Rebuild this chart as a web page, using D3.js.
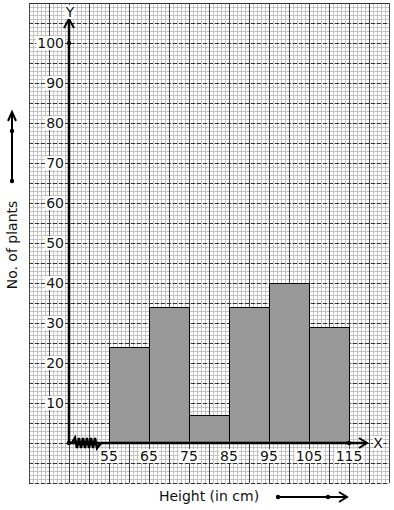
<!DOCTYPE html>
<html>
<head>
<meta charset="utf-8">
<script src="https://cdn.jsdelivr.net/npm/d3@7"></script>
<style>
  body { margin: 0; background: #fff; }
  svg { display: block; font-family: "DejaVu Sans", sans-serif; }
</style>
</head>
<body>
<svg id="chart" width="394" height="510"></svg>
<script>
const classStarts = [55, 65, 75, 85, 95, 105];
const plantCounts = [24, 34, 7, 34, 40, 29];
const xTicks = [55, 65, 75, 85, 95, 105, 115];
const yTicks = [10, 20, 30, 40, 50, 60, 70, 80, 90, 100];

const svg = d3.select("#chart");

// 10 units = 40px on both axes, origin at (69, 443)
const x = d3.scaleLinear().domain([45, 115]).range([69, 349]);
const y = d3.scaleLinear().domain([0, 100]).range([443, 43]);

// graph paper
const gx0 = x(35), gx1 = x(125), gy0 = y(110), gy1 = y(-10);
const paper = svg.append("g");
for (let v = 35; v <= 125; v += 1) {
  paper.append("line")
    .attr("x1", x(v) + 0.5).attr("x2", x(v) + 0.5)
    .attr("y1", gy0).attr("y2", gy1)
    .attr("stroke", "#c4c4c4").attr("stroke-width", 1);
}
for (let v = -10; v <= 110; v += 1) {
  paper.append("line")
    .attr("y1", y(v) + 0.5).attr("y2", y(v) + 0.5)
    .attr("x1", gx0).attr("x2", gx1)
    .attr("stroke", "#c4c4c4").attr("stroke-width", 1);
}
for (let v = 35; v <= 125; v += 5) {
  paper.append("line")
    .attr("x1", x(v) + 0.5).attr("x2", x(v) + 0.5)
    .attr("y1", gy0).attr("y2", gy1)
    .attr("stroke", "#444").attr("stroke-width", 1);
}
for (let v = -10; v <= 110; v += 5) {
  paper.append("line")
    .attr("y1", y(v) + 0.5).attr("y2", y(v) + 0.5)
    .attr("x1", gx0).attr("x2", gx1)
    .attr("stroke", "#333").attr("stroke-width", 1)
    .attr("stroke-dasharray", v === 110 ? null : "4,2");
}

// bars
svg.append("g")
  .selectAll("rect")
  .data(classStarts)
  .join("rect")
  .attr("x", (d) => x(d) + 0.5)
  .attr("y", (d, i) => y(plantCounts[i]) + 0.5)
  .attr("width", (d) => x(d + 10) - x(d))
  .attr("height", (d, i) => y(0) - y(plantCounts[i]))
  .attr("fill", "#999")
  .attr("stroke", "#000")
  .attr("stroke-width", 1);

// axes
const ax = svg.append("g").attr("stroke", "#000").attr("fill", "none").attr("stroke-width", 2.5);
ax.append("line").attr("x1", x(45)).attr("x2", x(125) - 22).attr("y1", y(0)).attr("y2", y(0));
ax.append("line").attr("x1", x(45)).attr("x2", x(45)).attr("y1", y(0)).attr("y2", y(105) - 3);
ax.append("path").attr("stroke-width", 2)
  .attr("d", `M${x(125) - 30},${y(0) - 5} L${x(125) - 22},${y(0)} L${x(125) - 30},${y(0) + 5}`);
ax.append("path").attr("stroke-width", 2)
  .attr("d", `M${x(45) - 5},${y(105) + 5} L${x(45)},${y(105) - 4} L${x(45) + 5},${y(105) + 5}`);

// zigzag (axis break)
let zz = `M${x(45) + 3},${y(0)}`;
for (let i = 0; i < 6; i++) {
  const bx = x(45) + 6 + i * 4;
  zz += ` L${bx},${y(0) - 5} L${bx + 2},${y(0) + 5}`;
}
zz += ` L${x(45) + 32},${y(0)}`;
svg.append("path").attr("d", zz).attr("fill", "none").attr("stroke", "#000").attr("stroke-width", 2.5);

const dots = [[x(45), y(0)], [x(45), y(100)], [x(115), y(0)]];
svg.selectAll("circle.dot").data(dots).join("circle")
  .attr("class", "dot").attr("cx", (d) => d[0]).attr("cy", (d) => d[1]).attr("r", 2.2).attr("fill", "#000");

// tick labels with white boxes
const labelFont = 14;
yTicks.forEach((t) => {
  const g = svg.append("g");
  const txt = g.append("text")
    .attr("x", x(45) - 5).attr("y", y(t)).attr("dy", "0.36em")
    .attr("text-anchor", "end").attr("font-size", labelFont).attr("fill", "#111").text(t);
  const b = txt.node().getBBox();
  g.insert("rect", "text").attr("x", b.x - 1).attr("y", b.y + 1).attr("width", b.width + 2).attr("height", b.height - 2).attr("fill", "#fff");
});
xTicks.forEach((t) => {
  const g = svg.append("g");
  const txt = g.append("text")
    .attr("x", x(t)).attr("y", y(0) + 18)
    .attr("text-anchor", "middle").attr("font-size", labelFont).attr("fill", "#111").text(t);
  const b = txt.node().getBBox();
  g.insert("rect", "text").attr("x", b.x - 1).attr("y", b.y + 1).attr("width", b.width + 2).attr("height", b.height - 2).attr("fill", "#fff");
});

// axis letters
[["X", x(125) - 11, y(0) + 5], ["Y", x(45) + 1, 17]].forEach(([s, lx, ly]) => {
  const g = svg.append("g");
  const txt = g.append("text").attr("x", lx).attr("y", ly).attr("text-anchor", "middle")
    .attr("font-size", 14).attr("fill", "#111").text(s);
  const b = txt.node().getBBox();
  g.insert("rect", "text").attr("x", b.x).attr("y", b.y + 1).attr("width", b.width).attr("height", b.height - 2).attr("fill", "#fff");
});

// axis titles
svg.append("text").attr("x", 209).attr("y", 501).attr("text-anchor", "middle")
  .attr("font-size", 14).attr("fill", "#111").text("Height (in cm)");
svg.append("text").attr("transform", "translate(17,245) rotate(-90)").attr("text-anchor", "middle")
  .attr("font-size", 14).attr("fill", "#111").text("No. of plants");

// direction arrows
const dec = svg.append("g").attr("stroke", "#000").attr("fill", "none").attr("stroke-width", 2);
dec.append("line").attr("x1", 278).attr("x2", 347).attr("y1", 497).attr("y2", 497);
dec.append("path").attr("d", "M339,492 L347,497 L339,502");
dec.append("line").attr("x1", 12).attr("x2", 12).attr("y1", 181).attr("y2", 113);
dec.append("path").attr("d", "M8,121 L12,112 L16,121");
[[278, 497], [328, 497], [12, 131], [12, 181]].forEach(([cx, cy]) => {
  svg.append("circle").attr("cx", cx).attr("cy", cy).attr("r", 2.2).attr("fill", "#000");
});
</script>
</body>
</html>
